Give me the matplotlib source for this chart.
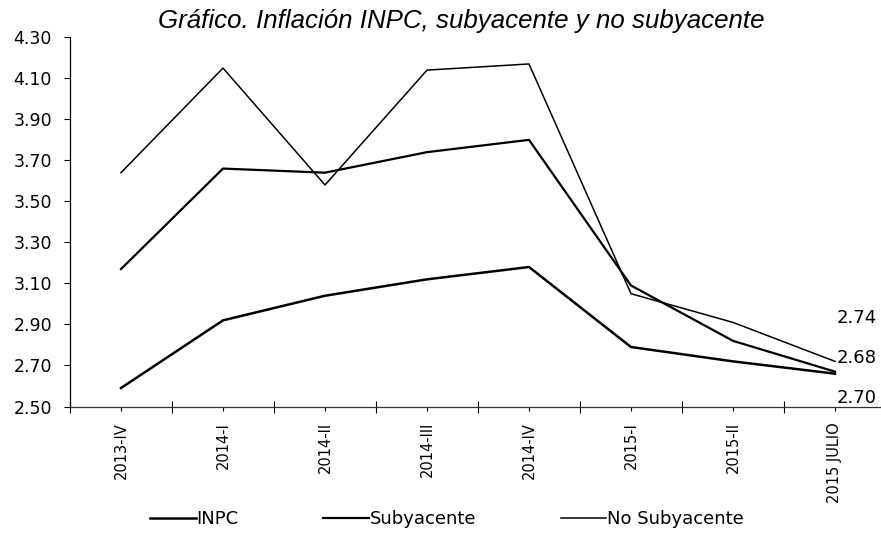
import numpy as np
import matplotlib
matplotlib.use("Agg")
import matplotlib.pyplot as plt
from matplotlib.ticker import FixedLocator, FormatStrFormatter

# ==========================
# Datos
# ==========================
periodos = ["2013-IV", "2014-I", "2014-II", "2014-III", "2014-IV", "2015-I", "2015-II", "2015 JULIO"]
inpc = [2.59, 2.92, 3.04, 3.12, 3.18, 2.79, 2.72, 2.66]
subyacente = [3.17, 3.66, 3.64, 3.74, 3.80, 3.09, 2.82, 2.67]
no_subyacente = [3.64, 4.15, 3.58, 4.14, 4.17, 3.05, 2.91, 2.72]
etiquetas_fin = ["2.74", "2.68", "2.70"]

plt.rcParams['font.family'] = ['DejaVu Sans']

fig = plt.figure(figsize=(8.81, 5.40), dpi=100)
ax = fig.add_axes([70/881, 1 - 406.5/540, 1 - 70/881, (406.5 - 37.3)/540])

x = np.arange(len(periodos))
ax.plot(x, inpc, color='black', linewidth=1.8, label='INPC')
ax.plot(x, subyacente, color='black', linewidth=1.6, label='Subyacente')
ax.plot(x, no_subyacente, color='black', linewidth=1.1, label='No Subyacente')

ax.set_xlim(-0.5, -0.5 + 811/102)
ax.set_ylim(2.5, 4.3)
ax.set_yticks(np.arange(2.5, 4.31, 0.2))
ax.yaxis.set_major_formatter(FormatStrFormatter('%.2f'))
ax.set_xticks(x)
ax.set_xticklabels(periodos, rotation=90, fontsize=10.5)
ax.xaxis.set_minor_locator(FixedLocator(np.arange(-0.5, 7.0, 1.0)))
ax.tick_params(axis='x', which='major', length=3, width=0.8, pad=8)
ax.tick_params(axis='x', which='minor', length=9, width=0.8, direction='inout')
ax.tick_params(axis='y', length=4, width=0.8, pad=9, labelsize=12.5)

for s in ['top', 'right']:
    ax.spines[s].set_visible(False)
ax.spines['left'].set_linewidth(0.9)
ax.spines['bottom'].set_linewidth(0.9)
ax.spines['bottom'].set_color('#333333')

# etiquetas al final
ys = [1 - 318/540, 1 - 358/540, 1 - 398/540]
for txt, yy in zip(etiquetas_fin, ys):
    fig.text(877/881, yy, txt, ha='right', va='center', fontsize=13)

fig.text(461/881, 1 - 28/540, "Gráfico. Inflación INPC, subyacente y no subyacente",
         ha='center', va='baseline', fontsize=18.6, style='italic', family='Liberation Sans')

fig.legend(loc='center', bbox_to_anchor=(447/881, 21/540), ncol=3, frameon=False,
           fontsize=13, handlelength=2.5, handletextpad=0.05, columnspacing=4.7)

fig.savefig("out.png", dpi=100)
